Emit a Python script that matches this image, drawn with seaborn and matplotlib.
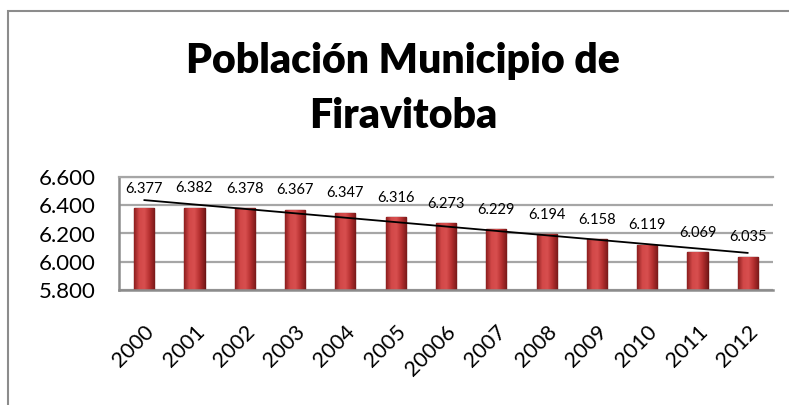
import numpy as np
import seaborn as sns
import matplotlib.pyplot as plt
import matplotlib.transforms as mtransforms
from matplotlib.colors import LinearSegmentedColormap
from matplotlib.patches import Rectangle

years = ["2000", "2001", "2002", "2003", "2004", "2005", "20006",
         "2007", "2008", "2009", "2010", "2011", "2012"]
population = [6377, 6382, 6378, 6367, 6347, 6316, 6273,
              6229, 6194, 6158, 6119, 6069, 6035]
y_ticks = [5800, 6000, 6200, 6400, 6600]


def miles(v):
    return f"{v:,}".replace(",", ".")


sns.set_theme(style="white")
plt.rcParams['font.family'] = ['Lato', 'DejaVu Sans']
plt.rcParams['text.color'] = 'black'
plt.rcParams['xtick.color'] = 'black'
plt.rcParams['ytick.color'] = 'black'

fig = plt.figure(figsize=(7.89, 4.05), dpi=100)
ax = fig.add_axes([119 / 789, 1 - 290 / 405, (773 - 119) / 789, (290 - 177) / 405])

sns.barplot(x=years, y=population, color="#c23b3b", width=0.4,
            edgecolor="#6e1414", linewidth=1, saturation=1, ax=ax)
sns.regplot(x=np.arange(len(years)), y=population, scatter=False, ci=None,
            color="black", line_kws={"linewidth": 1.3, "zorder": 5}, ax=ax)

ax.set_ylim(5800, 6600)
ax.set_xlim(-0.5, len(years) - 0.5)

# shading across each column, like the bevelled Excel bars
shade = LinearSegmentedColormap.from_list(
    "bar", ["#8e1f1f", "#d24848", "#d84f4f", "#b52f2f", "#7a1a1a"])
grad = np.linspace(0, 1, 64).reshape(1, -1)
for bar in ax.containers[0]:
    x0, w = bar.get_x(), bar.get_width()
    im = ax.imshow(grad, cmap=shade, aspect="auto", zorder=bar.get_zorder() + 0.1,
                   extent=(x0, x0 + w, 5800, bar.get_height()))
    im.set_clip_path(bar)
ax.set_xlim(-0.5, len(years) - 0.5)
ax.set_ylim(5800, 6600)

ax.set_yticks(y_ticks)
ax.set_yticklabels([miles(v) for v in y_ticks], fontsize=16)
ax.yaxis.grid(True, color="#a6a6a6", linewidth=1.6)
ax.set_axisbelow(True)
ax.set_xlabel("")
ax.set_ylabel("")

ax.bar_label(ax.containers[0], labels=[miles(v) for v in population],
             padding=9, fontsize=10.5, color="black")

ax.tick_params(axis="y", length=0, pad=17)
ax.tick_params(axis="x", length=0, pad=28)
offset = mtransforms.ScaledTranslation(5 / 72, 0, fig.dpi_scale_trans)
for lbl in ax.get_xticklabels():
    lbl.set_rotation(45)
    lbl.set_ha("right")
    lbl.set_va("center")
    lbl.set_rotation_mode("anchor")
    lbl.set_fontsize(15.5)
    lbl.set_transform(lbl.get_transform() + offset)

for side in ["left", "bottom"]:
    ax.spines[side].set_color("#8c8c8c")
    ax.spines[side].set_linewidth(1.8)
ax.spines["top"].set_color("#a6a6a6")
ax.spines["top"].set_linewidth(1.6)
ax.spines["right"].set_visible(False)

fig.text(0.511, 1 - 73 / 405, "Población Municipio de", ha="center",
         va="baseline", fontsize=29.5, fontweight="heavy", color="black")
fig.text(0.511, 1 - 128 / 405, "Firavitoba", ha="center",
         va="baseline", fontsize=29.5, fontweight="heavy", color="black")

fig.add_artist(Rectangle((8 / 789, -0.05), 1.2, 1.05 - 11 / 405,
                         transform=fig.transFigure, fill=False,
                         edgecolor="#8c8c8c", linewidth=1.5))

fig.savefig("out.png", dpi=100)
